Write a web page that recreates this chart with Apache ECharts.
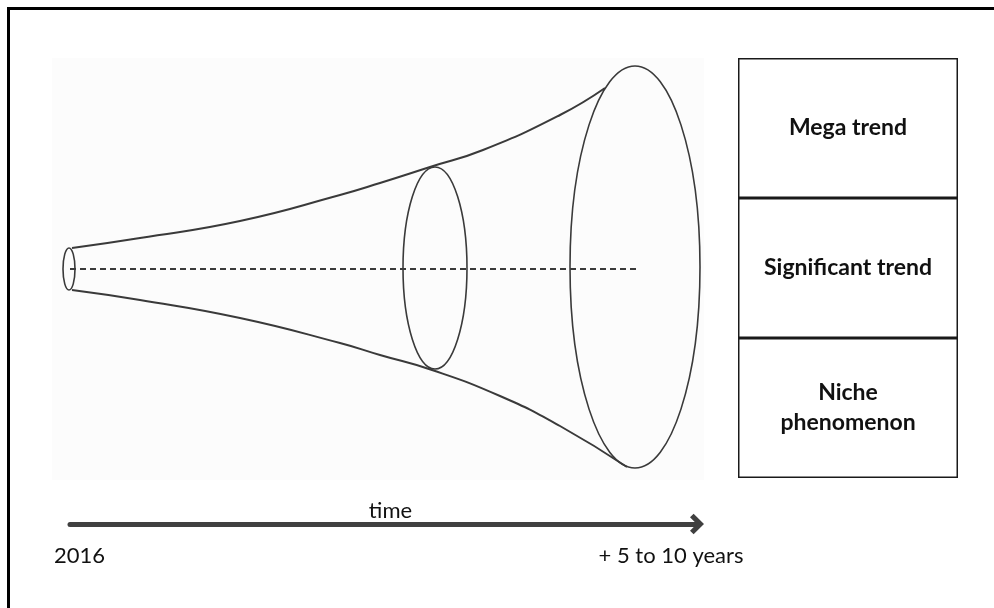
<!DOCTYPE html>
<html>
<head>
<meta charset="utf-8">
<script src="https://cdn.jsdelivr.net/npm/echarts@6/dist/echarts.min.js"></script>
<style>
  html, body { margin: 0; padding: 0; background: #fff; }
  #main { width: 994px; height: 608px; }
</style>
</head>
<body>
<div id="main"></div>
<script>
// cone outline, in diagram units (x = time direction, y = downwards)
const upperEdge = [[72, 248], [140, 238], [240, 221], [340, 195], [380, 183], [430, 167], [483, 150], [560, 115], [605, 88]];
const lowerEdge = [[72, 290], [140, 300], [240, 318], [340, 343], [380, 355], [432, 370], [500, 396], [560, 426], [627, 467]];
const centerAxis = [[70, 269], [638, 269]];
// cross sections: [cx, cy, rx, ry]
const sections = [[69, 269, 6, 21], [435, 268, 32, 101], [635, 267, 65, 201]];

const trendLevels = ['Mega trend', 'Significant trend', 'Niche\nphenomenon'];
const trendValues = [1, 1, 1];

const timeLabels = ['2016', '+ 5 to 10 years'];
const timeName = 'time';

const FONT = 'Lato';
const INK = '#3a3a3a';

const chart = echarts.init(document.getElementById('main'), null, { renderer: 'canvas' });

const option = {
  animation: false,
  backgroundColor: '#fff',
  graphic: [
    // faint scan background behind the cone
    { type: 'rect', z: -10, shape: { x: 52, y: 58, width: 652, height: 422 }, style: { fill: '#fcfcfc' } },
    // outer frame (top and left edges only are visible)
    { type: 'line', shape: { x1: 7, y1: 8.5, x2: 994, y2: 8.5 }, style: { stroke: '#000', lineWidth: 3 } },
    { type: 'line', shape: { x1: 8.5, y1: 7, x2: 8.5, y2: 608 }, style: { stroke: '#000', lineWidth: 3 } }
  ],
  grid: [
    { left: 0, right: 0, top: 0, bottom: 0 },
    { left: 70, right: 297, top: 499, height: 25 },
    { left: 738, right: 36, top: 58, height: 420 }
  ],
  xAxis: [
    { gridIndex: 0, type: 'value', min: 0, max: 994, show: false },
    {
      gridIndex: 1,
      type: 'category',
      data: timeLabels,
      boundaryGap: false,
      name: timeName,
      nameLocation: 'middle',
      nameGap: -24,
      nameTextStyle: { fontFamily: FONT, fontSize: 22, color: '#111', padding: [0, 0, 0, 14] },
      axisLine: {
        lineStyle: { color: '#404040', width: 5 },
        symbol: ['none', 'path://M0,10 L10,0 L20,10 L16.5,13.5 L10,7 L3.5,13.5 Z'],
        symbolSize: [21, 14]
      },
      axisTick: { show: false },
      axisLabel: {
        margin: 21,
        color: '#111',
        fontFamily: FONT,
        fontSize: 22,
        formatter: (v, i) => (i === 0 ? '{a|' + v + '}' : '{b|' + v + '}'),
        rich: {
          a: { fontFamily: FONT, fontSize: 22, color: '#111', padding: [0, 0, 0, 19] },
          b: { fontFamily: FONT, fontSize: 22, color: '#111', padding: [0, 52, 0, 0] }
        }
      },
      splitLine: { show: false }
    },
    { gridIndex: 2, type: 'value', min: 0, max: 1, show: false }
  ],
  yAxis: [
    { gridIndex: 0, type: 'value', min: 0, max: 608, inverse: true, show: false },
    { gridIndex: 1, type: 'value', show: false },
    { gridIndex: 2, type: 'category', data: trendLevels, inverse: true, show: false }
  ],
  series: [
    {
      name: 'upper edge',
      type: 'line',
      xAxisIndex: 0,
      yAxisIndex: 0,
      data: upperEdge,
      smooth: 0.5,
      showSymbol: false,
      lineStyle: { color: INK, width: 2 }
    },
    {
      name: 'lower edge',
      type: 'line',
      xAxisIndex: 0,
      yAxisIndex: 0,
      data: lowerEdge,
      smooth: 0.5,
      showSymbol: false,
      lineStyle: { color: INK, width: 2 }
    },
    {
      name: 'center',
      type: 'line',
      xAxisIndex: 0,
      yAxisIndex: 0,
      data: centerAxis,
      showSymbol: false,
      lineStyle: { color: INK, width: 2, type: [6, 4] }
    },
    {
      name: 'sections',
      type: 'custom',
      xAxisIndex: 0,
      yAxisIndex: 0,
      data: sections,
      renderItem: (params, api) => {
        const c = api.coord([api.value(0), api.value(1)]);
        const s = api.size([api.value(2), api.value(3)]);
        return {
          type: 'ellipse',
          shape: { cx: c[0], cy: c[1], rx: Math.abs(s[0]), ry: Math.abs(s[1]) },
          style: { fill: 'none', stroke: INK, lineWidth: 1.6 }
        };
      }
    },
    {
      name: 'trend levels',
      type: 'bar',
      xAxisIndex: 2,
      yAxisIndex: 2,
      data: trendValues,
      barCategoryGap: 0,
      itemStyle: { color: '#fff', borderColor: '#1a1a1a', borderWidth: 1.5 },
      label: {
        show: true,
        position: 'inside',
        formatter: '{b}',
        color: '#111',
        fontFamily: FONT,
        fontWeight: 'bold',
        fontSize: 23,
        lineHeight: 30
      }
    }
  ]
};

chart.setOption(option);
</script>
</body>
</html>
